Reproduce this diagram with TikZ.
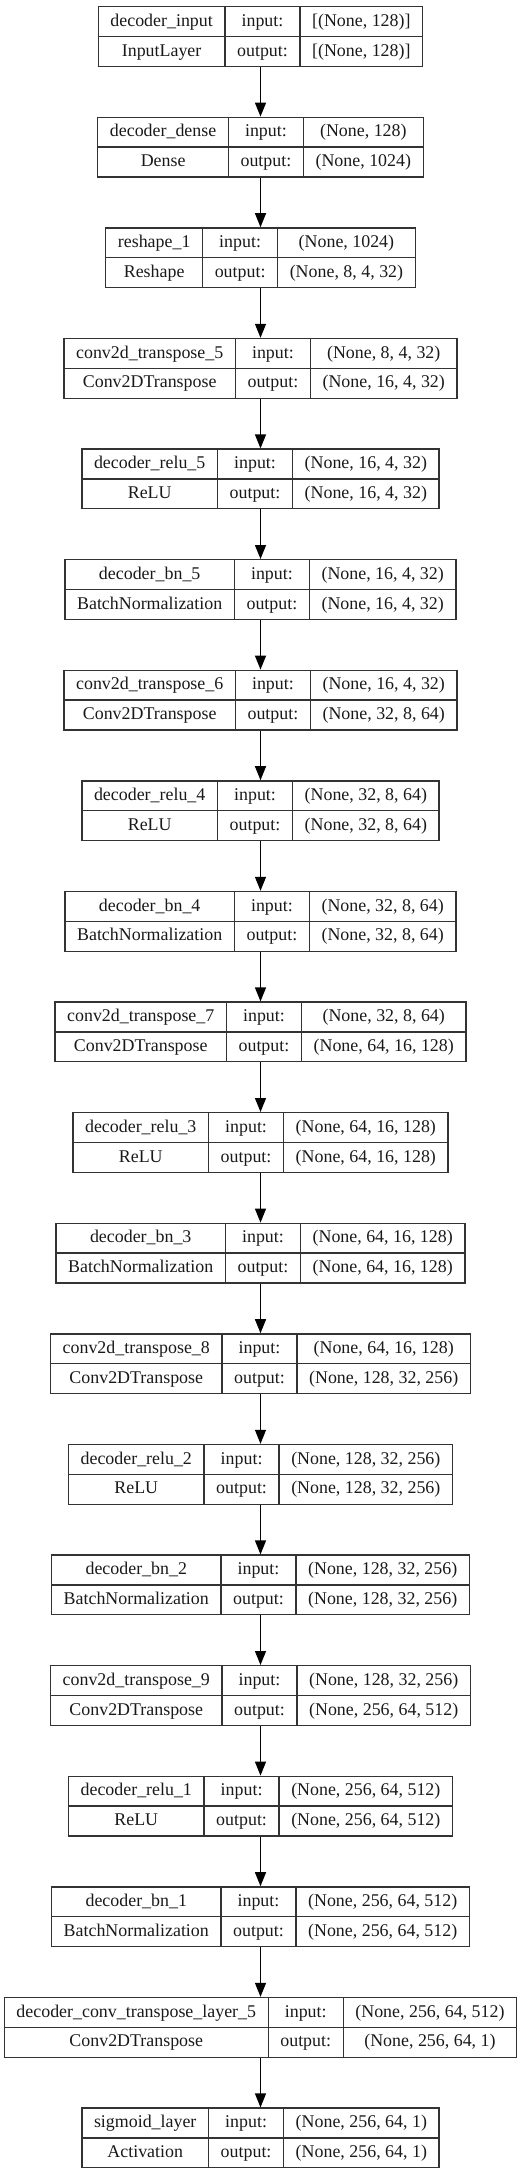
\documentclass[tikz,border=0pt]{standalone}
\usepackage{fontspec}
\setmainfont{Liberation Serif}
\usepackage{colortbl}
\usepackage{tikz}
\usetikzlibrary{arrows.meta,positioning}

\setlength{\arrayrulewidth}{1.3pt}
\setlength{\tabcolsep}{11.5pt}
\newcommand{\rowstrut}{\vrule height 19pt depth 9.55pt width 0pt}
% one layer box: name, type, input shape, output shape
\newcommand{\lyr}[4]{%
\begin{tabular}{|c|c|c|}\hline
\rowstrut #1 & input: & #3\\\hline
\rowstrut #2 & output: & #4\\\hline
\end{tabular}}

\begin{document}
\begin{tikzpicture}[
x=1pt, y=1pt,
layer/.style={inner sep=0pt, outer sep=0pt, font=\fontsize{17.9}{21.5}\selectfont, text=black!90},
flow/.style={-{Triangle[width=11pt,length=14pt]}, line width=1.3pt, black},
node distance=49.6pt,
]
\useasboundingbox (0,0) rectangle (521,-2176);
\arrayrulecolor{black!80}
%Nodes
\node[layer, anchor=north] (inp) at (260.5,-6) {\lyr{decoder\_input}{InputLayer}{[(None, 128)]}{[(None, 128)]}};
\node[layer] (dense) [below=of inp]   {\lyr{decoder\_dense}{Dense}{(None, 128)}{(None, 1024)}};
\node[layer] (resh)  [below=of dense] {\lyr{reshape\_1}{Reshape}{(None, 1024)}{(None, 8, 4, 32)}};
\node[layer] (ct5)   [below=of resh]  {\lyr{conv2d\_transpose\_5}{Conv2DTranspose}{(None, 8, 4, 32)}{(None, 16, 4, 32)}};
\node[layer] (relu5) [below=of ct5]   {\lyr{decoder\_relu\_5}{ReLU}{(None, 16, 4, 32)}{(None, 16, 4, 32)}};
\node[layer] (bn5)   [below=of relu5] {\lyr{decoder\_bn\_5}{BatchNormalization}{(None, 16, 4, 32)}{(None, 16, 4, 32)}};
\node[layer] (ct6)   [below=of bn5]   {\lyr{conv2d\_transpose\_6}{Conv2DTranspose}{(None, 16, 4, 32)}{(None, 32, 8, 64)}};
\node[layer] (relu4) [below=of ct6]   {\lyr{decoder\_relu\_4}{ReLU}{(None, 32, 8, 64)}{(None, 32, 8, 64)}};
\node[layer] (bn4)   [below=of relu4] {\lyr{decoder\_bn\_4}{BatchNormalization}{(None, 32, 8, 64)}{(None, 32, 8, 64)}};
\node[layer] (ct7)   [below=of bn4]   {\lyr{conv2d\_transpose\_7}{Conv2DTranspose}{(None, 32, 8, 64)}{(None, 64, 16, 128)}};
\node[layer] (relu3) [below=of ct7]   {\lyr{decoder\_relu\_3}{ReLU}{(None, 64, 16, 128)}{(None, 64, 16, 128)}};
\node[layer] (bn3)   [below=of relu3] {\lyr{decoder\_bn\_3}{BatchNormalization}{(None, 64, 16, 128)}{(None, 64, 16, 128)}};
\node[layer] (ct8)   [below=of bn3]   {\lyr{conv2d\_transpose\_8}{Conv2DTranspose}{(None, 64, 16, 128)}{(None, 128, 32, 256)}};
\node[layer] (relu2) [below=of ct8]   {\lyr{decoder\_relu\_2}{ReLU}{(None, 128, 32, 256)}{(None, 128, 32, 256)}};
\node[layer] (bn2)   [below=of relu2] {\lyr{decoder\_bn\_2}{BatchNormalization}{(None, 128, 32, 256)}{(None, 128, 32, 256)}};
\node[layer] (ct9)   [below=of bn2]   {\lyr{conv2d\_transpose\_9}{Conv2DTranspose}{(None, 128, 32, 256)}{(None, 256, 64, 512)}};
\node[layer] (relu1) [below=of ct9]   {\lyr{decoder\_relu\_1}{ReLU}{(None, 256, 64, 512)}{(None, 256, 64, 512)}};
\node[layer] (bn1)   [below=of relu1] {\lyr{decoder\_bn\_1}{BatchNormalization}{(None, 256, 64, 512)}{(None, 256, 64, 512)}};
\node[layer] (ctl5)  [below=of bn1]   {\lyr{decoder\_conv\_transpose\_layer\_5}{Conv2DTranspose}{(None, 256, 64, 512)}{(None, 256, 64, 1)}};
\node[layer] (sig)   [below=of ctl5]  {\lyr{sigmoid\_layer}{Activation}{(None, 256, 64, 1)}{(None, 256, 64, 1)}};

%Lines
\foreach \a/\b in {inp/dense, dense/resh, resh/ct5, ct5/relu5, relu5/bn5, bn5/ct6, ct6/relu4, relu4/bn4, bn4/ct7, ct7/relu3, relu3/bn3, bn3/ct8, ct8/relu2, relu2/bn2, bn2/ct9, ct9/relu1, relu1/bn1, bn1/ctl5, ctl5/sig}
  \draw[flow] (\a.south) -- (\b.north);
\end{tikzpicture}
\end{document}
